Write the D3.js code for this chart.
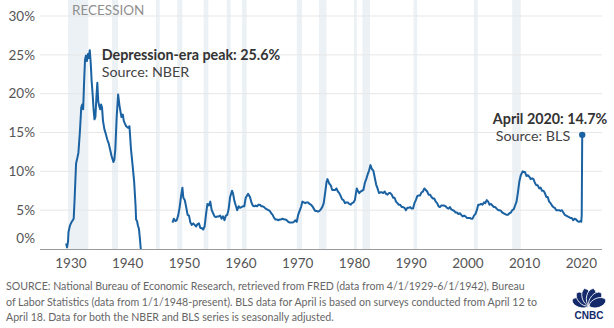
<!DOCTYPE html>
<html>
<head>
<meta charset="utf-8">
<script src="https://cdn.jsdelivr.net/npm/d3@7/dist/d3.min.js"></script>
<style>
  body { margin: 0; background: #fff; }
  svg { display: block; font-family: Lato, "Open Sans", sans-serif; }
</style>
</head>
<body>
<div id="chart"></div>
<script>
// NBER monthly rate, 1929-1942 (selected months)
const nberSeries = [
  ["1929-04", 0.7], ["1929-06", 0.2], ["1929-08", 1.0], ["1929-09", 2.2], ["1929-12", 3.0],
  ["1930-03", 3.4], ["1930-06", 3.7], ["1930-08", 3.9], ["1930-10", 6.5], ["1931-01", 11.0],
  ["1931-04", 11.8], ["1931-06", 12.4], ["1931-09", 15.0], ["1931-12", 18.2], ["1932-02", 18.6],
  ["1932-04", 18.0], ["1932-06", 21.5], ["1932-08", 24.4], ["1932-10", 24.9], ["1932-12", 24.2],
  ["1933-02", 25.1], ["1933-04", 24.6], ["1933-06", 25.6], ["1933-08", 24.0], ["1933-10", 21.6],
  ["1933-12", 20.0], ["1934-02", 18.0], ["1934-04", 16.7], ["1934-06", 17.0], ["1934-08", 19.5],
  ["1934-10", 21.4], ["1934-12", 19.0], ["1935-02", 18.4], ["1935-04", 18.0], ["1935-06", 18.6],
  ["1935-08", 18.2], ["1935-10", 16.5], ["1936-01", 15.4], ["1936-04", 14.8], ["1936-07", 14.1],
  ["1936-10", 13.6], ["1937-01", 12.8], ["1937-04", 12.0], ["1937-08", 11.2], ["1937-10", 11.5],
  ["1937-12", 12.8], ["1938-03", 17.0], ["1938-06", 19.9], ["1938-09", 18.4], ["1939-01", 17.0],
  ["1939-04", 17.3], ["1939-06", 16.5], ["1939-08", 16.2], ["1939-11", 15.8], ["1940-03", 15.6],
  ["1940-06", 15.8], ["1940-09", 13.0], ["1941-01", 10.5], ["1941-04", 8.6], ["1941-07", 5.5],
  ["1941-08", 3.8], ["1941-10", 3.6], ["1941-12", 3.0], ["1942-02", 2.6], ["1942-04", 1.4],
  ["1942-06", 0.0]
];

// BLS rate, 1948-2020 (quarterly readings plus turning points)
const blsSeries = [
  ["1948-01", 3.4], ["1948-04", 3.9], ["1948-07", 3.6], ["1948-10", 3.7],
  ["1949-01", 4.3], ["1949-04", 5.3], ["1949-07", 6.7], ["1949-10", 7.9], ["1949-12", 6.6],
  ["1950-03", 6.3], ["1950-06", 5.4], ["1950-09", 4.4], ["1950-12", 4.3],
  ["1951-03", 3.4], ["1951-06", 3.1], ["1951-09", 3.3], ["1951-12", 3.1],
  ["1952-03", 2.9], ["1952-06", 3.2], ["1952-09", 3.3], ["1952-12", 2.7],
  ["1953-03", 2.7], ["1953-06", 2.5], ["1953-09", 2.9], ["1953-12", 4.5],
  ["1954-03", 5.8], ["1954-06", 5.6], ["1954-09", 6.1], ["1954-12", 5.0],
  ["1955-03", 4.6], ["1955-06", 4.2], ["1955-09", 4.1], ["1955-12", 4.2],
  ["1956-03", 4.2], ["1956-06", 4.3], ["1956-09", 3.9], ["1956-12", 4.2],
  ["1957-03", 3.7], ["1957-06", 4.3], ["1957-09", 4.4], ["1957-12", 5.2],
  ["1958-03", 6.7], ["1958-07", 7.5], ["1958-09", 7.2], ["1958-12", 6.2],
  ["1959-03", 5.6], ["1959-06", 5.0], ["1959-09", 5.5], ["1959-12", 5.3],
  ["1960-03", 5.4], ["1960-06", 5.5], ["1960-09", 5.5], ["1960-12", 6.6],
  ["1961-03", 6.9], ["1961-05", 7.1], ["1961-09", 6.7], ["1961-12", 6.0],
  ["1962-03", 5.6], ["1962-06", 5.5], ["1962-09", 5.6], ["1962-12", 5.5],
  ["1963-03", 5.7], ["1963-06", 5.7], ["1963-09", 5.5], ["1963-12", 5.5],
  ["1964-03", 5.4], ["1964-06", 5.2], ["1964-09", 5.1], ["1964-12", 5.0],
  ["1965-03", 4.9], ["1965-06", 4.6], ["1965-09", 4.4], ["1965-12", 4.0],
  ["1966-03", 3.8], ["1966-06", 3.8], ["1966-09", 3.7], ["1966-12", 3.8],
  ["1967-03", 3.8], ["1967-06", 3.9], ["1967-09", 3.8], ["1967-12", 3.8],
  ["1968-03", 3.7], ["1968-06", 3.5], ["1968-09", 3.4], ["1968-12", 3.4],
  ["1969-03", 3.4], ["1969-06", 3.5], ["1969-09", 3.7], ["1969-12", 3.5],
  ["1970-03", 4.4], ["1970-06", 4.9], ["1970-09", 5.4], ["1970-12", 6.1],
  ["1971-03", 6.0], ["1971-06", 5.9], ["1971-09", 6.0], ["1971-12", 6.0],
  ["1972-03", 5.8], ["1972-06", 5.7], ["1972-09", 5.5], ["1972-12", 5.2],
  ["1973-03", 4.9], ["1973-06", 4.9], ["1973-09", 4.8], ["1973-12", 4.9],
  ["1974-03", 5.1], ["1974-06", 5.4], ["1974-09", 5.9], ["1974-12", 7.2],
  ["1975-03", 8.6], ["1975-05", 9.0], ["1975-09", 8.4], ["1975-12", 8.2],
  ["1976-03", 7.6], ["1976-06", 7.6], ["1976-09", 7.6], ["1976-12", 7.8],
  ["1977-03", 7.4], ["1977-06", 7.2], ["1977-09", 6.8], ["1977-12", 6.4],
  ["1978-03", 6.3], ["1978-06", 5.9], ["1978-09", 6.0], ["1978-12", 6.0],
  ["1979-03", 5.8], ["1979-06", 5.7], ["1979-09", 5.9], ["1979-12", 6.0],
  ["1980-03", 6.3], ["1980-07", 7.8], ["1980-09", 7.5], ["1980-12", 7.2],
  ["1981-03", 7.4], ["1981-06", 7.5], ["1981-09", 7.6], ["1981-12", 8.5],
  ["1982-03", 9.0], ["1982-06", 9.6], ["1982-09", 10.1], ["1982-12", 10.8],
  ["1983-03", 10.3], ["1983-06", 10.1], ["1983-09", 9.2], ["1983-12", 8.3],
  ["1984-03", 7.8], ["1984-06", 7.2], ["1984-09", 7.3], ["1984-12", 7.3],
  ["1985-03", 7.2], ["1985-06", 7.4], ["1985-09", 7.1], ["1985-12", 7.0],
  ["1986-03", 7.2], ["1986-06", 7.2], ["1986-09", 7.0], ["1986-12", 6.6],
  ["1987-03", 6.6], ["1987-06", 6.1], ["1987-09", 5.9], ["1987-12", 5.7],
  ["1988-03", 5.7], ["1988-06", 5.4], ["1988-09", 5.4], ["1988-12", 5.3],
  ["1989-03", 5.0], ["1989-06", 5.3], ["1989-09", 5.3], ["1989-12", 5.4],
  ["1990-03", 5.2], ["1990-06", 5.2], ["1990-09", 5.9], ["1990-12", 6.3],
  ["1991-03", 6.8], ["1991-06", 6.9], ["1991-09", 6.9], ["1991-12", 7.3],
  ["1992-03", 7.4], ["1992-06", 7.8], ["1992-09", 7.6], ["1992-12", 7.4],
  ["1993-03", 7.0], ["1993-06", 7.0], ["1993-09", 6.7], ["1993-12", 6.5],
  ["1994-03", 6.5], ["1994-06", 6.1], ["1994-09", 5.9], ["1994-12", 5.5],
  ["1995-03", 5.4], ["1995-06", 5.6], ["1995-09", 5.6], ["1995-12", 5.6],
  ["1996-03", 5.5], ["1996-06", 5.3], ["1996-09", 5.2], ["1996-12", 5.4],
  ["1997-03", 5.1], ["1997-06", 5.0], ["1997-09", 4.9], ["1997-12", 4.7],
  ["1998-03", 4.7], ["1998-06", 4.5], ["1998-09", 4.6], ["1998-12", 4.4],
  ["1999-03", 4.2], ["1999-06", 4.3], ["1999-09", 4.2], ["1999-12", 4.0],
  ["2000-03", 4.0], ["2000-06", 4.0], ["2000-09", 3.9], ["2000-12", 3.9],
  ["2001-03", 4.3], ["2001-06", 4.5], ["2001-09", 5.0], ["2001-12", 5.7],
  ["2002-03", 5.7], ["2002-06", 5.8], ["2002-09", 5.7], ["2002-12", 6.0],
  ["2003-03", 5.9], ["2003-06", 6.3], ["2003-09", 6.1], ["2003-12", 5.7],
  ["2004-03", 5.8], ["2004-06", 5.6], ["2004-09", 5.4], ["2004-12", 5.4],
  ["2005-03", 5.2], ["2005-06", 5.0], ["2005-09", 5.0], ["2005-12", 4.9],
  ["2006-03", 4.7], ["2006-06", 4.6], ["2006-09", 4.5], ["2006-12", 4.4],
  ["2007-03", 4.4], ["2007-06", 4.6], ["2007-09", 4.7], ["2007-12", 5.0],
  ["2008-03", 5.1], ["2008-06", 5.6], ["2008-09", 6.1], ["2008-12", 7.3],
  ["2009-03", 8.7], ["2009-06", 9.5], ["2009-10", 10.0], ["2009-12", 9.9],
  ["2010-03", 9.9], ["2010-06", 9.4], ["2010-09", 9.5], ["2010-12", 9.3],
  ["2011-03", 9.0], ["2011-06", 9.1], ["2011-09", 9.0], ["2011-12", 8.5],
  ["2012-03", 8.2], ["2012-06", 8.2], ["2012-09", 7.8], ["2012-12", 7.9],
  ["2013-03", 7.5], ["2013-06", 7.5], ["2013-09", 7.2], ["2013-12", 6.7],
  ["2014-03", 6.7], ["2014-06", 6.1], ["2014-09", 5.9], ["2014-12", 5.6],
  ["2015-03", 5.4], ["2015-06", 5.3], ["2015-09", 5.0], ["2015-12", 5.0],
  ["2016-03", 5.0], ["2016-06", 4.9], ["2016-09", 5.0], ["2016-12", 4.7],
  ["2017-03", 4.4], ["2017-06", 4.3], ["2017-09", 4.2], ["2017-12", 4.1],
  ["2018-03", 4.0], ["2018-06", 4.0], ["2018-09", 3.7], ["2018-12", 3.9],
  ["2019-03", 3.8], ["2019-06", 3.6], ["2019-09", 3.5], ["2019-12", 3.6],
  ["2020-01", 3.6], ["2020-02", 3.5], ["2020-03", 4.4], ["2020-04", 14.7]
];

// NBER recession dates (start, end)
const recessions = [
  ["1929-08", "1933-03"], ["1937-05", "1938-06"], ["1945-02", "1945-10"],
  ["1948-11", "1949-10"], ["1953-07", "1954-05"], ["1957-08", "1958-04"],
  ["1960-04", "1961-02"], ["1969-12", "1970-11"], ["1973-11", "1975-03"],
  ["1980-01", "1980-07"], ["1981-07", "1982-11"], ["1990-07", "1991-03"],
  ["2001-03", "2001-11"], ["2007-12", "2009-06"]
];

const yTicks = [0, 5, 10, 15, 20, 25, 30];
const xTicks = [1930, 1940, 1950, 1960, 1970, 1980, 1990, 2000, 2010, 2020];

const sourceLines = [
  "SOURCE: National Bureau of Economic Research, retrieved from FRED (data from 4/1/1929-6/1/1942), Bureau",
  "of Labor Statistics (data from 1/1/1948-present). BLS data for April is based on surveys conducted from April 12 to",
  "April 18. Data for both the NBER and BLS series is seasonally adjusted."
];

const width = 614, height = 328;
const plotLeft = 40, plotRight = 602, plotTop = 0, plotBottom = 249;
const blue = "#1b62a2";
const noteSize = "14.3px";

const parse = d3.timeParse("%Y-%m");

const svg = d3.select("#chart").append("svg")
    .attr("width", width)
    .attr("height", height);

const x = d3.scaleTime()
    .domain([new Date(1930, 0, 1), new Date(2020, 0, 1)])
    .range([70.4, 580.8]);

const y = d3.scaleLinear()
    .domain([0, 30])
    .range([plotBottom, 16]);

// recession shading
svg.append("g")
  .selectAll("rect")
  .data(recessions)
  .join("rect")
    .attr("x", d => x(parse(d[0])))
    .attr("y", plotTop)
    .attr("width", d => x(parse(d[1])) - x(parse(d[0])))
    .attr("height", plotBottom - plotTop)
    .attr("fill", "#ecf1f5");

svg.append("text")
    .attr("x", 72)
    .attr("y", 15)
    .attr("fill", "#8f8f8f")
    .style("font-size", "13.5px")
    .text("RECESSION");

// horizontal grid
svg.append("g")
  .selectAll("line")
  .data(yTicks.filter(d => d > 0))
  .join("line")
    .attr("x1", plotLeft)
    .attr("x2", plotRight)
    .attr("y1", d => y(d))
    .attr("y2", d => y(d))
    .attr("stroke", "#e7e7e7")
    .attr("stroke-width", 1);

// y labels
const yAxis = svg.append("g")
    .attr("transform", "translate(35,0)")
    .call(d3.axisLeft(y).tickValues(yTicks).tickSize(0).tickPadding(0).tickFormat(d => d + "%"));
yAxis.select(".domain").remove();
yAxis.selectAll("text")
    .attr("fill", "#555")
    .style("font-size", "13.5px")
    .style("font-family", "Lato, sans-serif")
    .attr("dy", d => d === 0 ? "-0.45em" : "0.32em");

// x axis
svg.append("line")
    .attr("x1", plotLeft)
    .attr("x2", plotRight)
    .attr("y1", plotBottom + 0.5)
    .attr("y2", plotBottom + 0.5)
    .attr("stroke", "#9a9a9a");

const xAxis = svg.append("g")
    .attr("transform", `translate(0,${plotBottom})`)
    .call(d3.axisBottom(x)
      .tickValues(xTicks.map(d => new Date(d, 0, 1)))
      .tickSize(0)
      .tickPadding(9)
      .tickFormat(d3.timeFormat("%Y")));
xAxis.select(".domain").remove();
xAxis.selectAll("text")
    .attr("fill", "#555")
    .style("font-size", "13.5px")
    .style("font-family", "Lato, sans-serif");

// rate lines
const line = d3.line()
    .x(d => x(parse(d[0])))
    .y(d => y(d[1]));

[nberSeries, blsSeries].forEach(series => {
  svg.append("path")
      .datum(series)
      .attr("d", line)
      .attr("fill", "none")
      .attr("stroke", blue)
      .attr("stroke-width", 2)
      .attr("stroke-linejoin", "round");
});

// depression peak note
const peak = nberSeries.reduce((a, b) => b[1] > a[1] ? b : a);
const peakX = x(parse(peak[0])) + 12;
const peakY = y(peak[1]);
svg.append("text")
    .attr("x", peakX)
    .attr("y", peakY + 10)
    .attr("fill", "#333")
    .style("font-size", noteSize)
    .style("font-weight", "bold")
    .text(`Depression-era peak: ${peak[1]}%`);
svg.append("text")
    .attr("x", peakX)
    .attr("y", peakY + 27)
    .attr("fill", "#444")
    .style("font-size", noteSize)
    .text("Source: NBER");

// latest reading
const last = blsSeries[blsSeries.length - 1];
const lastX = x(parse(last[0]));
const lastY = y(last[1]);
svg.append("circle")
    .attr("cx", lastX)
    .attr("cy", lastY)
    .attr("r", 3.2)
    .attr("fill", blue);
svg.append("text")
    .attr("x", lastX + 25)
    .attr("y", lastY - 11)
    .attr("text-anchor", "end")
    .attr("fill", "#333")
    .style("font-size", noteSize)
    .style("font-weight", "bold")
    .text(`April 2020: ${last[1]}%`);
svg.append("text")
    .attr("x", lastX - 12)
    .attr("y", lastY + 6)
    .attr("text-anchor", "end")
    .attr("fill", "#444")
    .style("font-size", noteSize)
    .text("Source: BLS");

// source note
svg.append("g")
  .selectAll("text")
  .data(sourceLines)
  .join("text")
    .attr("x", 6)
    .attr("y", (d, i) => 290 + i * 15.5)
    .attr("fill", "#666")
    .style("font-size", "10.6px")
    .text(d => d);

// CNBC mark
const logo = svg.append("g").attr("transform", "translate(589,306)");
const feather = "M0,0 C-6,-3 -6.5,-16 0,-18 C6.5,-16 6,-3 0,0 Z";
[-70, -42, -14, 14, 42, 70].forEach(a => {
  logo.append("path")
      .attr("d", feather)
      .attr("transform", `rotate(${a})`)
      .attr("fill", "#142a6a")
      .attr("stroke", "#fff")
      .attr("stroke-width", 0.8);
});
logo.append("text")
    .attr("x", 0)
    .attr("y", 13)
    .attr("text-anchor", "middle")
    .attr("fill", "#142a6a")
    .style("font-size", "10px")
    .style("font-weight", "900")
    .style("font-family", "Arial, 'Liberation Sans', sans-serif")
    .text("CNBC");
</script>
</body>
</html>
